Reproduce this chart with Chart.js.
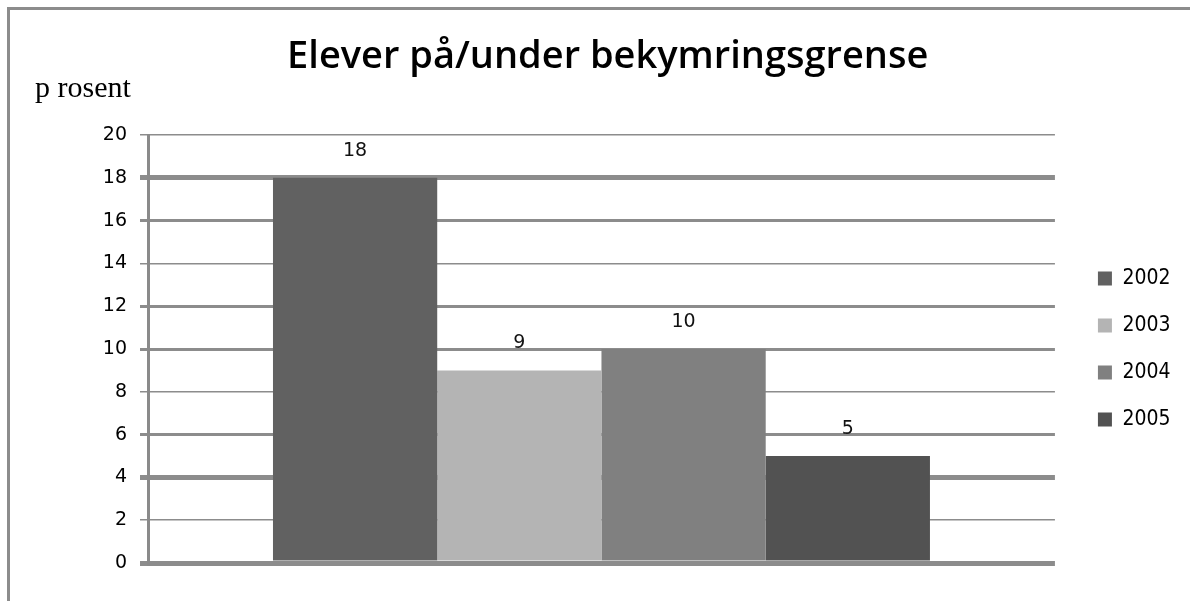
<!DOCTYPE html>
<html>
<head>
<meta charset="utf-8">
<script src="https://cdn.jsdelivr.net/npm/chart.js@4/dist/chart.umd.min.js"></script>
<style>
  html, body { margin: 0; padding: 0; background: #ffffff; }
  #wrap { width: 1190px; height: 601px; }
</style>
</head>
<body>
<div id="wrap"><canvas id="c" width="1190" height="601"></canvas></div>
<script>
const categories = [''];
const seriesNames = ['2002', '2003', '2004', '2005'];
const seriesValues = [[18], [9], [10], [5]];
const seriesColors = ['#616161', '#b4b4b4', '#808080', '#525252'];
const yTicks = [0, 2, 4, 6, 8, 10, 12, 14, 16, 18, 20];
const titleText = 'Elever på/under bekymringsgrense';
const yLabel = 'p rosent';

// gridline widths per tick value (as seen in the scanned reference)
const gridWidths = {0: 5, 2: 1.5, 4: 5, 6: 3, 8: 1.5, 10: 3, 12: 3, 14: 1.5, 16: 3, 18: 5, 20: 1.5};

const frame = {
  id: 'frame',
  beforeDraw(chart) {
    const ctx = chart.ctx;
    ctx.save();
    ctx.fillStyle = '#ffffff';
    ctx.fillRect(0, 0, chart.width, chart.height);
    ctx.strokeStyle = '#8c8c8c';
    ctx.lineWidth = 3;
    ctx.beginPath();
    ctx.moveTo(8.5, chart.height);
    ctx.lineTo(8.5, 8.5);
    ctx.lineTo(chart.width, 8.5);
    ctx.stroke();
    ctx.restore();
  }
};

const valueLabels = {
  id: 'valueLabels',
  afterDatasetsDraw(chart) {
    const ctx = chart.ctx;
    ctx.save();
    ctx.font = '19px "DejaVu Sans"';
    ctx.fillStyle = '#111111';
    ctx.textAlign = 'center';
    ctx.textBaseline = 'middle';
    chart.data.datasets.forEach((ds, i) => {
      const meta = chart.getDatasetMeta(i);
      meta.data.forEach((bar, j) => {
        ctx.fillText(String(ds.data[j]), bar.x, bar.y - 27);
      });
    });
    ctx.restore();
  }
};

new Chart(document.getElementById('c'), {
  type: 'bar',
  data: {
    labels: categories,
    datasets: seriesNames.map((name, i) => ({
      label: name,
      data: seriesValues[i],
      backgroundColor: seriesColors[i],
      borderWidth: 0,
      categoryPercentage: 0.7244,
      barPercentage: 1.0
    }))
  },
  options: {
    responsive: false,
    animation: false,
    layout: { padding: { left: 35, right: 9.5, top: 10, bottom: 38 } },
    plugins: {
      title: {
        display: true,
        text: titleText,
        color: '#000000',
        font: { family: '"Open Sans"', size: 38, weight: '600', lineHeight: 1 },
        padding: { top: 28, bottom: 0 }
      },
      subtitle: {
        display: true,
        text: yLabel,
        align: 'start',
        color: '#000000',
        font: { family: '"Liberation Serif"', size: 30, lineHeight: 0.6 },
        padding: { top: 4, bottom: 37 }
      },
      legend: {
        position: 'right',
        fullSize: false,
        labels: {
          boxWidth: 14,
          boxHeight: 14,
          padding: 26,
          color: '#000000',
          font: { family: '"DejaVu Sans Condensed"', size: 21 }
        }
      },
      tooltip: { enabled: false }
    },
    scales: {
      x: { display: false },
      y: {
        min: 0,
        max: 20,
        afterFit(s) { s.width = 113; },
        afterBuildTicks(s) { s.ticks = yTicks.map(v => ({ value: v })); },
        border: { display: true, color: '#8a8a8a', width: 3 },
        grid: {
          color: '#8c8c8c',
          lineWidth: c => gridWidths[c.tick ? c.tick.value : 0] || 1.5,
          tickLength: 8
        },
        ticks: {
          padding: 13,
          color: '#000000',
          font: { family: '"DejaVu Sans"', size: 19 }
        }
      },
      pad: {
        position: 'right',
        display: true,
        afterFit(s) { s.width = 17; },
        grid: { display: false },
        border: { display: false },
        ticks: { display: false }
      }
    }
  },
  plugins: [frame, valueLabels]
});
</script>
</body>
</html>
